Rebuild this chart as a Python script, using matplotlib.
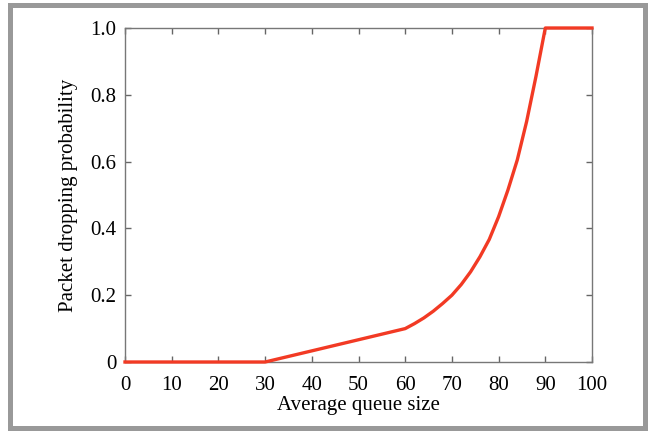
import matplotlib
matplotlib.use("Agg")
import matplotlib.pyplot as plt
from matplotlib.patches import Rectangle

queue_size = [0, 30, 60, 62, 64, 66, 68, 70, 72, 74, 76, 78, 80, 82, 84, 86, 88, 90, 100]
drop_prob = [0.0, 0.0, 0.10, 0.115, 0.132, 0.152, 0.175, 0.20, 0.232, 0.27, 0.315,
             0.367, 0.435, 0.515, 0.605, 0.72, 0.855, 1.0, 1.0]
x_ticks = [0, 10, 20, 30, 40, 50, 60, 70, 80, 90, 100]
y_ticks = [0, 0.2, 0.4, 0.6, 0.8, 1.0]
y_tick_labels = ["0", "0.2", "0.4", "0.6", "0.8", "1.0"]

plt.rcParams['font.family'] = ['Liberation Serif', 'DejaVu Serif']

fig = plt.figure(figsize=(6.54, 4.32), dpi=100)
fig.patches.append(Rectangle((10/654, 1 - 428/432), 635/654, 423/432,
                             transform=fig.transFigure, fill=False,
                             edgecolor='#999999', linewidth=3.6))

ax = fig.add_axes([125/654, 1 - 362/432, (592-125)/654, (362-28)/432])
ax.plot(queue_size, drop_prob, color='#f23a24', linewidth=2.4,
        clip_on=False, zorder=5, solid_joinstyle='round')
ax.set_xlim(0, 100)
ax.set_ylim(0, 1)
ax.set_xticks(x_ticks)
ax.set_xticklabels([str(t) for t in x_ticks])
ax.set_yticks(y_ticks)
ax.set_yticklabels(y_tick_labels)
for s in ax.spines.values():
    s.set_color('#777777')
    s.set_linewidth(1.0)
ax.tick_params(direction='in', length=4, width=1, color='#666666',
               top=True, right=True, labelsize=15, labelcolor='black')
ax.tick_params(axis='x', pad=10)
ax.tick_params(axis='y', pad=6)
ax.set_xlabel('Average queue size', fontsize=15, labelpad=1)
ax.set_ylabel('Packet dropping probability', fontsize=15, labelpad=9)

fig.savefig('out.png', dpi=100)
